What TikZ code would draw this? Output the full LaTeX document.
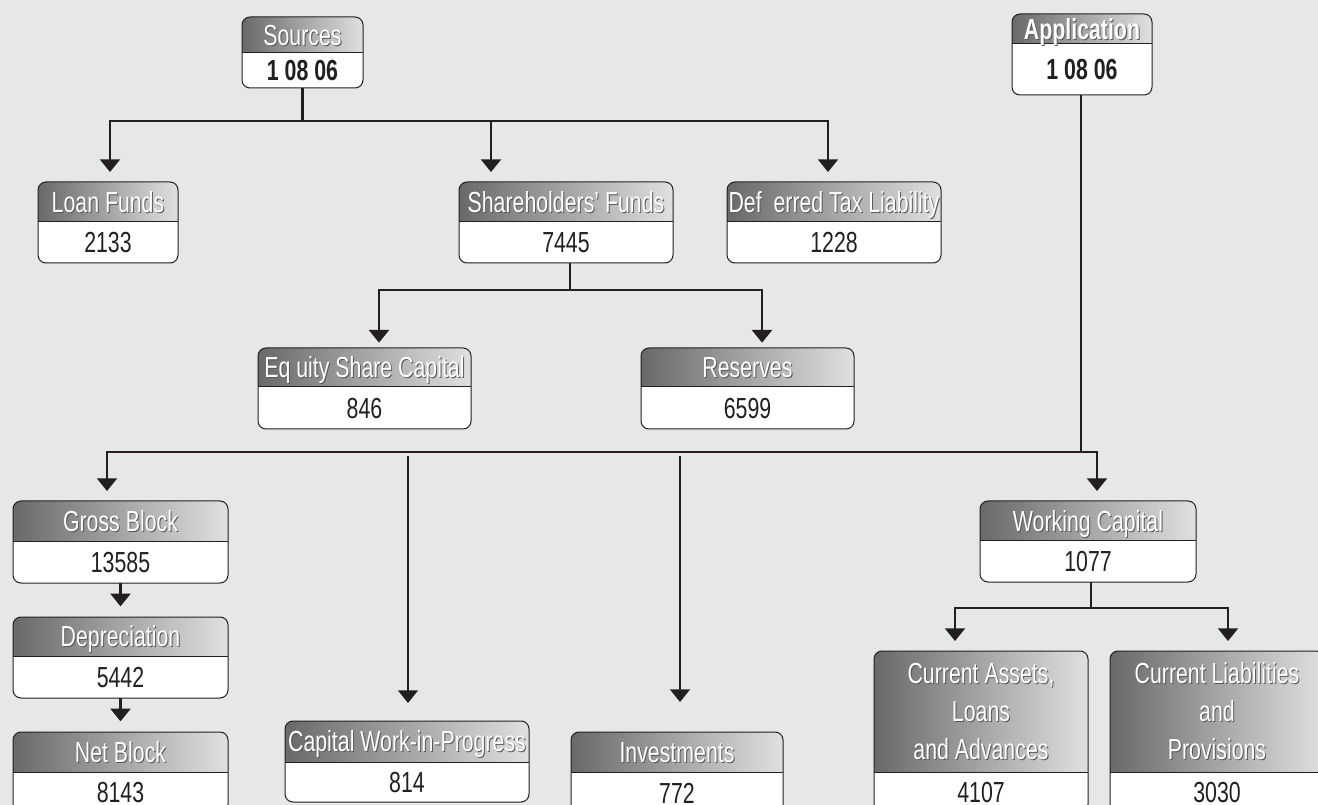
\documentclass[tikz,border=0pt]{standalone}
\usepackage{fontspec}
\newfontfamily\nar[FakeStretch=0.735]{Liberation Sans}
\usetikzlibrary{arrows.meta,calc,fit}
\definecolor{bg}{RGB}{230,231,232}
\definecolor{hdL}{RGB}{105,105,108}
\definecolor{hdR}{RGB}{224,224,224}
\definecolor{ln}{RGB}{35,31,32}
\tikzset{
  boxline/.style={draw=ln, line width=0.75pt},
  hdtext/.style={text=white, font=\nar\fontsize{21.75}{28.5}\selectfont, align=center, text height=15.6pt, text depth=0pt, inner sep=0pt},
  hdshadow/.style={hdtext, text=black!65},
  valtext/.style={text=ln, font=\nar\fontsize{21.75}{28.5}\selectfont, text height=15.6pt, text depth=0pt, inner sep=0pt},
  conn/.style={draw=ln, line width=1.6pt},
  arr/.style={conn, -{Triangle[width=15pt,length=9.5pt]}, shorten >=7.5pt},
  thinarr/.style={draw=ln, line width=1.2pt, -{Triangle[width=15pt,length=9.5pt]}},
}
% #1 name, #2 x1, #3 y1, #4 x2, #5 y2, #6 y split, #7 header, #8 value
\newcommand\finbox[8]{%
  \node[fit={(#2,#3)(#4,#5)}, inner sep=0pt, outer sep=0pt] (#1) {};
  \begin{scope}
    \clip[rounded corners=6pt] (#2,#3) rectangle (#4,#5);
    \fill[white] (#2,#3) rectangle (#4,#5);
    \shade[left color=hdL, right color=hdR] (#2,#3) rectangle (#4,#6);
  \end{scope}
  \draw[boxline] (#2,#6) -- (#4,#6);
  \draw[boxline, rounded corners=6pt] (#2,#3) rectangle (#4,#5);
  \node[hdshadow] at ($(#2,#3)!0.5!(#4,#6)+(1,1)$) {#7};
  \node[hdtext] (#1-h) at ($(#2,#3)!0.5!(#4,#6)$) {#7};
  \node[valtext] (#1-v) at ($(#2,#6)!0.5!(#4,#5)$) {#8};
}
\begin{document}
\begin{tikzpicture}[x=0.75pt, y=-0.75pt]
\useasboundingbox (0,0) rectangle (1318,805);
\fill[bg] (0,0) rectangle (1318,805);
\clip (0,0) rectangle (1318,805);

% boxes
\finbox{src}{242}{17}{363}{88}{53}{Sources}{\bfseries 1 08 06}
\finbox{app}{1012}{14}{1152}{95}{44}{\bfseries Application}{\bfseries 1 08 06}
\finbox{loan}{38}{182}{178}{263}{222}{Loan Funds}{2133}
\finbox{sh}{459}{182}{673}{263}{222}{Shareholders’ Funds}{7445}
\finbox{def}{727}{182}{941}{263}{222}{Def\ \ erred Tax Liability}{1228}
\finbox{eq}{258}{348}{471}{429}{387}{Eq\ uity Share Capital}{846}
\finbox{res}{641}{348}{854}{429}{387}{Reserves}{6599}
\finbox{gb}{13}{501}{228}{583}{542}{Gross Block}{13585}
\finbox{dep}{13}{617}{228}{698}{656}{Depreciation}{5442}
\finbox{nb}{13}{732}{228}{812}{772}{Net Block}{8143}
\finbox{cwip}{285}{721}{529}{802}{762}{Capital Work-in-Progress}{814}
\finbox{inv}{571}{732}{783}{814}{772}{Investments}{772}
\finbox{wc}{980}{501}{1196}{582}{541}{Working Capital}{1077}
\begin{scope}[hdtext/.append style={text height={}, text depth={}}]
\finbox{ca}{874}{651}{1088}{812}{772}{Current Assets,\\Loans\\and Advances}{4107}
\finbox{cl}{1110}{651}{1324}{812}{772}{Current Liabilities\\and\\Provisions}{3030}
\end{scope}

% sources tree
\coordinate (b1L) at (110,121);
\coordinate (b1M) at (491,121);
\coordinate (b1R) at (828,121);
\draw[conn] (src.south) -- (src.south |- b1L);
\draw[arr] (b1M) -- (b1L) -- (b1L |- loan.north);
\draw[arr] (b1M) -- (b1R) -- (b1R |- def.north);
\draw[arr] (b1M) -- (b1M |- sh.north);

% shareholders tree
\coordinate (s0) at (570,263);
\coordinate (b2M) at (570,290);
\coordinate (b2L) at (379,290);
\coordinate (b2R) at (762,290);
\draw[conn] (s0) -- (b2M);
\draw[arr, shorten >=4pt] (b2M) -- (b2L) -- (b2L |- eq.north);
\draw[arr, shorten >=4pt] (b2M) -- (b2R) -- (b2R |- res.north);

% application tree
\coordinate (a0) at (1081,95);
\coordinate (b3M) at (1081,452);
\coordinate (b3L) at (107,452);
\coordinate (b3R) at (1097,452);
\draw[conn] (a0) -- (b3M);
\draw[arr] (b3M) -- (b3L) -- (b3L |- gb.north);
\draw[arr] (b3M) -- (b3R) -- (b3R |- wc.north);
\coordinate (c0) at (408,456);
\coordinate (i0) at (680,456);
\draw[thinarr, shorten >=13.5pt] (c0) -- (c0 |- cwip.north);
\draw[thinarr, shorten >=22.5pt] (i0) -- (i0 |- inv.north);

% fixed assets chain
\draw[arr, shorten >=8pt] (gb.south) -- (dep.north);
\draw[arr, shorten >=8pt] (dep.south) -- (nb.north);

% working capital tree
\coordinate (w0) at (1091,582);
\coordinate (b4M) at (1091,608);
\coordinate (b4L) at (955,608);
\coordinate (b4R) at (1228,608);
\draw[conn] (w0) -- (b4M);
\draw[arr] (b4M) -- (b4L) -- (b4L |- ca.north);
\draw[arr] (b4M) -- (b4R) -- (b4R |- cl.north);
\end{tikzpicture}
\end{document}
